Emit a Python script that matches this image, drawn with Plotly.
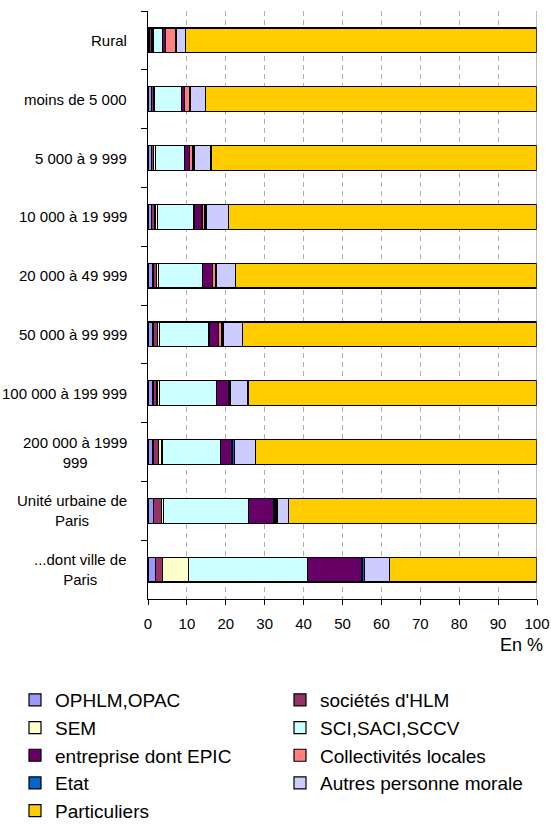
import plotly.graph_objects as go

categories = ["Rural", "moins de 5 000", "5 000 à 9 999", "10 000 à 19 999",
              "20 000 à 49 999", "50 000 à 99 999", "100 000 à 199 999",
              "200 000 à 1999<br>999", "Unité urbaine de<br>Paris", "...dont ville de<br>Paris"]

series_names = ["OPHLM,OPAC", "sociétés d'HLM", "SEM", "SCI,SACI,SCCV",
                "entreprise dont EPIC", "Collectivités locales", "Etat",
                "Autres personne morale", "Particuliers"]

ophlm        = [0.3, 0.9, 0.8, 0.8, 1.3, 1.3, 1.3, 1.3, 1.5, 1.9]
hlm          = [0.6, 0.5, 0.7, 1.0, 0.8, 1.2, 1.0, 1.5, 1.9, 1.8]
sem          = [0.4, 0.3, 0.5, 0.7, 0.6, 0.5, 0.7, 0.8, 0.6, 6.8]
sci          = [2.4, 6.9, 7.4, 9.3, 11.4, 12.7, 14.6, 15.1, 21.9, 30.5]
entreprise   = [0.8, 0.8, 1.3, 2.1, 2.4, 2.5, 3.0, 2.7, 6.5, 13.8]
collectivites= [2.5, 1.4, 0.8, 0.7, 0.8, 0.7, 0.3, 0.4, 0.5, 0.2]
etat         = [0.2, 0.2, 0.3, 0.3, 0.4, 0.4, 0.4, 0.5, 0.4, 0.7]
autres       = [2.4, 3.8, 4.4, 5.7, 4.8, 5.0, 4.4, 5.4, 2.9, 6.4]
particuliers = [90.4, 85.2, 83.8, 79.4, 77.5, 75.7, 74.3, 72.3, 63.8, 37.9]

series_values = [ophlm, hlm, sem, sci, entreprise, collectivites, etat, autres, particuliers]
colors = ["#9999FF", "#993366", "#FFFFCC", "#CCFFFF", "#660066",
          "#FF8080", "#0066CC", "#CCCCFF", "#FFCC00"]

x_ticks = list(range(0, 101, 10))

FONT = "Liberation Sans, Arial, sans-serif"
LEGEND_FONT = dict(family=FONT, size=19, color="black")

fig = go.Figure()
for i, (name, vals, col) in enumerate(zip(series_names, series_values, colors)):
    fig.add_trace(go.Bar(
        y=categories, x=vals, name=name, orientation="h",
        marker=dict(color=col, line=dict(color="black", width=1.2)),
        legend="legend" if i % 2 == 0 else "legend2",
    ))

legend_top = 1 - 681 / 829
fig.update_layout(
    width=551, height=829,
    margin=dict(l=148, r=14, t=11, b=230, autoexpand=False),
    barmode="stack", bargap=0.58,
    plot_bgcolor="white", paper_bgcolor="white",
    font=dict(family=FONT, size=16, color="black"),
    legend=dict(
        orientation="v", xref="container", yref="container",
        x=15 / 551, y=legend_top, xanchor="left", yanchor="top",
        font=LEGEND_FONT, traceorder="normal", itemclick=False,
        bgcolor="rgba(0,0,0,0)",
    ),
    legend2=dict(
        orientation="v", xref="container", yref="container",
        x=280 / 551, y=legend_top, xanchor="left", yanchor="top",
        font=LEGEND_FONT, traceorder="normal", itemclick=False,
        bgcolor="rgba(0,0,0,0)",
    ),
    showlegend=True,
)

fig.update_xaxes(
    range=[0, 100], tickvals=x_ticks, ticktext=[str(v) for v in x_ticks],
    showgrid=True, gridcolor="#B0B0B0", gridwidth=1, griddash="5px,4px",
    showline=True, linecolor="black", linewidth=1,
    ticks="outside", ticklen=5, tickcolor="black",
    zeroline=False, ticklabelstandoff=6, automargin=False,
    tickfont=dict(size=15),
)
fig.update_yaxes(
    categoryorder="array", categoryarray=categories, autorange="reversed",
    showticklabels=False, ticks="outside", ticklen=6, tickcolor="black",
    tickson="boundaries", showline=True, linecolor="black", linewidth=1,
    showgrid=False, automargin=False,
)

fig.add_shape(type="line", xref="x", yref="paper", x0=100, x1=100, y0=0, y1=1,
              line=dict(color="#808080", width=1))

for c in categories:
    fig.add_annotation(x=-19 / 389, xref="paper", y=c, yref="y",
                       text=c, showarrow=False, xanchor="right", yanchor="middle",
                       align="center", font=dict(size=15))

fig.add_annotation(x=1.02, xref="paper", y=-46 / 588, yref="paper",
                   text="En %", showarrow=False, xanchor="right", yanchor="middle",
                   font=dict(size=18))

fig.write_html("out.html")
